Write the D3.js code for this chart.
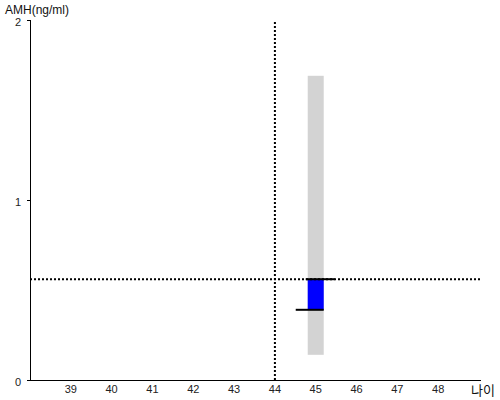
<!DOCTYPE html>
<html>
<head>
<meta charset="utf-8">
<script src="https://cdn.jsdelivr.net/npm/d3@7"></script>
<style>
body { margin: 0; background: #fff; }
text { font-family: "Liberation Sans", Arial, sans-serif; }
</style>
</head>
<body>
<script>
var ages = [39, 40, 41, 42, 43, 44, 45, 46, 47, 48];
var amhTicks = [0, 1, 2];
// normal range for age 45 (grey) and the middle band (blue)
var rangeAge = [45];
var rangeLow = [0.14];
var rangeHigh = [1.69];
var bandLow = [0.39];
var bandHigh = [0.56];
// the person's own point
var myAge = 44;
var myAmh = 0.56;

var width = 500, height = 400;

var x = d3.scaleLinear().domain([38, 49]).range([30, 479]);
var y = d3.scaleLinear().domain([0, 2]).range([380, 20]);

var svg = d3.select("body").append("svg")
    .attr("width", width)
    .attr("height", height);

// grey range bar
svg.append("g").selectAll("rect")
    .data(rangeAge).enter()
    .append("rect")
    .attr("x", function(d) { return x(d) - 8; })
    .attr("width", 16)
    .attr("y", function(d, i) { return y(rangeHigh[i]); })
    .attr("height", function(d, i) { return y(rangeLow[i]) - y(rangeHigh[i]); })
    .attr("fill", "#d3d3d3");

// blue band
svg.append("g").selectAll("rect")
    .data(rangeAge).enter()
    .append("rect")
    .attr("x", function(d) { return x(d) - 8; })
    .attr("width", 16)
    .attr("y", function(d, i) { return y(bandHigh[i]); })
    .attr("height", function(d, i) { return y(bandLow[i]) - y(bandHigh[i]); })
    .attr("fill", "#0000ff");

// black marks at the band edges
rangeAge.forEach(function(d, i) {
    svg.append("line")
        .attr("x1", x(d) - 10).attr("x2", x(d) + 19)
        .attr("y1", y(bandHigh[i])).attr("y2", y(bandHigh[i]))
        .attr("stroke", "#000").attr("stroke-width", 2);
    svg.append("line")
        .attr("x1", x(d) - 20).attr("x2", x(d) + 8)
        .attr("y1", y(bandLow[i])).attr("y2", y(bandLow[i]))
        .attr("stroke", "#000").attr("stroke-width", 2);
});

// dotted cross hair
svg.append("line")
    .attr("x1", x(myAge)).attr("x2", x(myAge))
    .attr("y1", y(2) + 2).attr("y2", y(0))
    .attr("stroke", "#000").attr("stroke-width", 2)
    .attr("stroke-dasharray", "2,2");
svg.append("line")
    .attr("x1", x(38)).attr("x2", 481)
    .attr("y1", y(myAmh)).attr("y2", y(myAmh))
    .attr("stroke", "#000").attr("stroke-width", 2)
    .attr("stroke-dasharray", "2,2");

// axes
svg.append("line")
    .attr("x1", 30.5).attr("x2", 30.5)
    .attr("y1", y(2)).attr("y2", y(0))
    .attr("stroke", "#000");
svg.append("line")
    .attr("x1", 30).attr("x2", 481)
    .attr("y1", 380.5).attr("y2", 380.5)
    .attr("stroke", "#000");

svg.append("g").selectAll("line")
    .data(amhTicks).enter()
    .append("line")
    .attr("x1", 27).attr("x2", 31)
    .attr("y1", function(d) { return Math.round(y(d)) + 0.5; })
    .attr("y2", function(d) { return Math.round(y(d)) + 0.5; })
    .attr("stroke", "#000");

svg.append("g").selectAll("text")
    .data(amhTicks).enter()
    .append("text")
    .attr("x", 21)
    .attr("y", function(d) { return y(d) + 5.5; })
    .attr("text-anchor", "end")
    .attr("font-size", 11)
    .attr("fill", "#222")
    .text(function(d) { return d; });

svg.append("g").selectAll("text")
    .data(ages).enter()
    .append("text")
    .attr("x", function(d) { return x(d); })
    .attr("y", 393)
    .attr("text-anchor", "middle")
    .attr("font-size", 11)
    .attr("fill", "#222")
    .text(function(d) { return d; });

svg.append("text")
    .attr("x", 5)
    .attr("y", 14)
    .attr("font-size", 12)
    .attr("fill", "#111")
    .text("AMH(ng/ml)");

svg.append("text")
    .attr("x", 471)
    .attr("y", 395)
    .attr("font-size", 13)
    .attr("fill", "#111")
    .style("font-family", "'Noto Sans CJK KR', sans-serif")
    .text("나이");
</script>
</body>
</html>
